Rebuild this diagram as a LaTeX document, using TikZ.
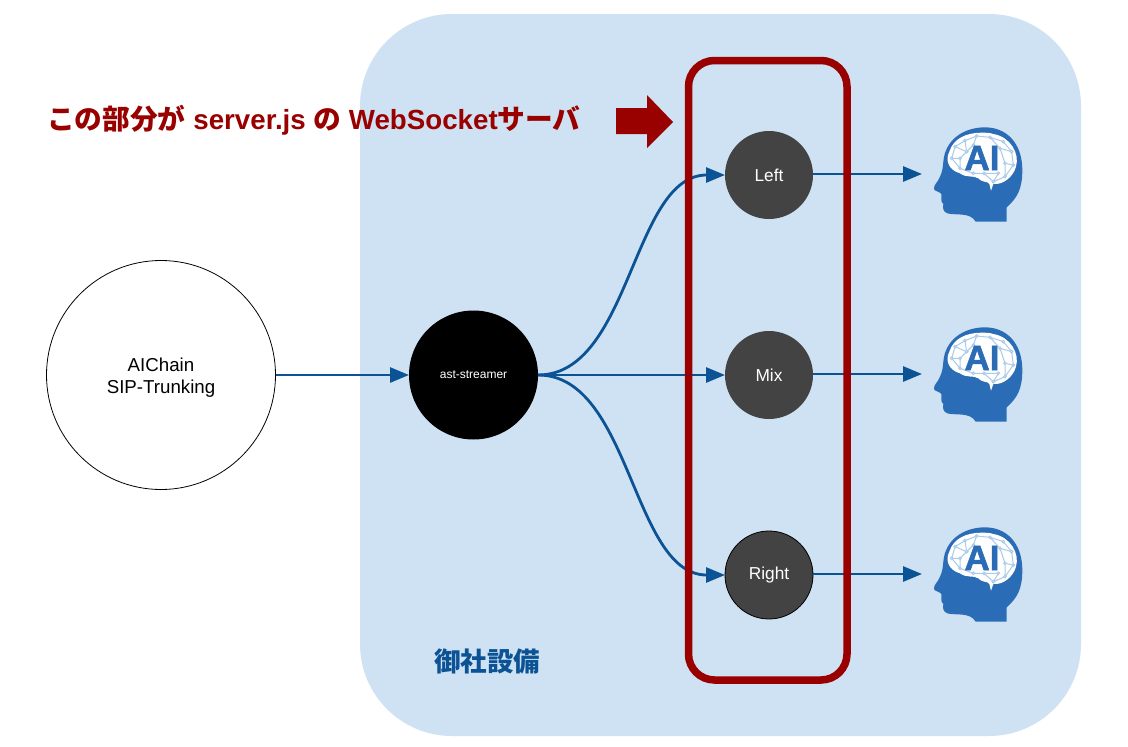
\documentclass[tikz,border=0pt]{standalone}
\usepackage{fontspec}
\setmainfont{Liberation Sans}
\newfontfamily\jpfont{Noto Sans CJK JP}
\newfontfamily\heavyfont[BoldFeatures={FakeBold=1.6}]{Liberation Sans}
\usetikzlibrary{arrows.meta}
\definecolor{bgblue}{HTML}{CFE2F3}
\definecolor{darkred}{HTML}{990000}
\definecolor{linkblue}{HTML}{0B5394}
\definecolor{iconblue}{HTML}{2B6CB6}
\definecolor{netblue}{HTML}{A9CAE8}
\definecolor{grayfill}{HTML}{434343}
\newcommand{\fs}[1]{\fontsize{#1}{22}\selectfont}
\tikzset{
  x=1pt,y=-1pt,
  link/.style={draw=linkblue,line width=2.8pt,-{Triangle[length=19pt,width=15pt]}},
  gnode/.style={circle,fill=grayfill,text=white,minimum size=88pt,inner sep=0pt,outer sep=0pt,font=\fs{17.3}},
  brainicon/.pic={
    \begin{scope}[x=0.3333pt,y=-0.3333pt,shift={(-201,-162)}]
      \fill[iconblue] (225,22) .. controls (160,22) and (105,60) .. (100,125)
        .. controls (98,145) and (97,155) .. (90,170)
        .. controls (85,185) and (70,195) .. (72,207)
        .. controls (75,215) and (90,215) .. (94,222)
        .. controls (96,235) and (90,245) .. (100,252)
        .. controls (98,262) and (98,275) .. (112,280)
        .. controls (135,287) and (180,275) .. (197,305)
        -- (290,305) -- (290,262)
        .. controls (320,235) and (337,210) .. (337,150)
        .. controls (337,70) and (290,22) .. (225,22) -- cycle;
      \fill[white] (215,38) .. controls (170,38) and (130,55) .. (118,95)
        .. controls (105,120) and (115,150) .. (150,160)
        .. controls (170,175) and (190,165) .. (205,175)
        .. controls (220,190) and (232,182) .. (238,192)
        -- (243,212) -- (250,192)
        .. controls (280,195) and (310,170) .. (318,140)
        .. controls (330,100) and (300,50) .. (250,42)
        .. controls (240,38) and (225,38) .. (215,38) -- cycle;
      \draw[netblue,line width=1pt]
        (135,80) -- (165,62) -- (200,48) -- (240,52) -- (280,65) -- (305,95) -- (310,135) -- (285,170) -- (250,185) -- (222,160) -- (190,160) -- (150,145) -- (125,115) -- cycle
        (165,62) -- (170,95) -- (135,80)
        (200,48) -- (190,75) -- (170,95) -- (150,115) -- (125,115)
        (150,115) -- (150,145)
        (240,52) -- (270,85) -- (305,95)
        (270,85) -- (285,130) -- (310,135)
        (285,130) -- (285,170)
        (222,160) -- (265,160) -- (250,185);
      \foreach \p in {(135,80),(165,62),(200,48),(240,52),(280,65),(305,95),(310,135),(285,170),(250,185),(222,160),(190,160),(150,145),(125,115),(170,95),(190,75),(150,115),(270,85),(285,130),(265,160)}
        \fill[white] \p circle (4) ;
      \foreach \p in {(135,80),(165,62),(200,48),(240,52),(280,65),(305,95),(310,135),(285,170),(250,185),(222,160),(190,160),(150,145),(125,115),(170,95),(190,75),(150,115),(270,85),(285,130),(265,160)}
        \draw[netblue,line width=1pt] \p circle (4);
      \node[text=iconblue,font=\fs{35}\heavyfont\bfseries,inner sep=0pt] at (216,114) {AI};
    \end{scope}
  }
}
\begin{document}
\begin{tikzpicture}
  \useasboundingbox (0,0) rectangle (1128,747);
  \fill[white] (0,0) rectangle (1128,747);
  \fill[bgblue,rounded corners=92pt] (360,14) rectangle (1081,736);

  \node[draw=black,line width=0.8pt,circle,fill=white,minimum size=229pt,inner sep=0pt,outer sep=0pt,align=center,font=\fs{18.7}] (chain) at (161,375) {\rule{0pt}{19pt}AIChain\\SIP-Trunking};
  \node[circle,fill=black,text=white,minimum size=129pt,inner sep=0pt,outer sep=0pt,font=\fs{12}] (streamer) at (473.5,375) {ast-streamer};
  \node[gnode] (left) at (769,175) {Left};
  \node[gnode] (mix) at (769,375) {Mix};
  \node[gnode,draw=black,line width=0.8pt] (right) at (769,575) {Right};

  \coordinate (aiL) at (922,174);
  \coordinate (aiM) at (922,374);
  \coordinate (aiR) at (922,574);
  \pic at (977,174) {brainicon};
  \pic at (977,374) {brainicon};
  \pic at (977,574) {brainicon};

  \draw[link] (chain.east) -- (streamer.west);
  \draw[link] (streamer.east) -- (mix.west);
  \draw[link] (streamer.east) .. controls +(93,0) and +(-93,0) .. (left.west);
  \draw[link] (streamer.east) .. controls +(93,0) and +(-93,0) .. (right.west);
  \draw[link] (left.east |- aiL) -- (aiL);
  \draw[link] (mix.east |- aiM) -- (aiM);
  \draw[link] (right.east |- aiR) -- (aiR);

  \draw[darkred,line width=7.5pt,rounded corners=26pt] (688.5,60.5) rectangle (847,680);

  \fill[darkred] (616,108) -- (647,108) -- (647,95) -- (673,122) -- (647,148) -- (647,134) -- (616,134) -- cycle;

  \node[anchor=west,inner sep=0pt,text=darkred,font=\fs{27.7}\bfseries] (title) at (47,120.5) {{\jpfont\bfseries この部分が} server.js {\jpfont\bfseries の} WebSocket{\jpfont\bfseries サーバ}};
  \node[anchor=west,inner sep=0pt,text=linkblue,font=\fs{26.5}\bfseries] (site) at (434,661) {\jpfont\bfseries 御社設備};
\end{tikzpicture}
\end{document}
